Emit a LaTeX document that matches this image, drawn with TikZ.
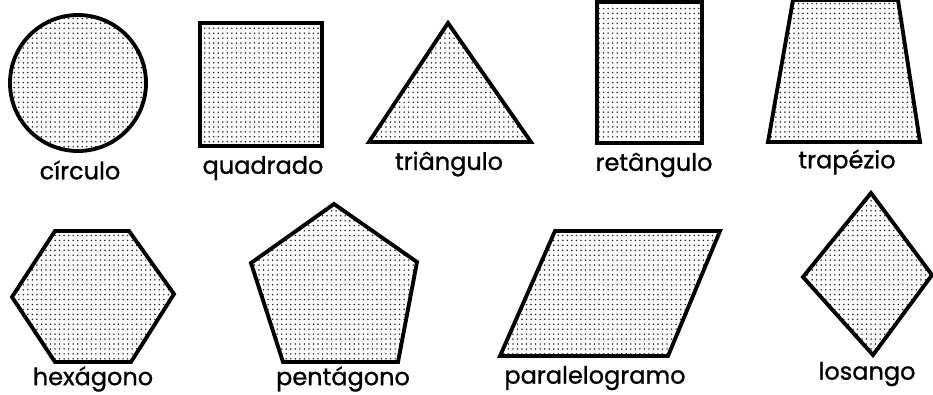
\documentclass[tikz,border=0pt]{standalone}
\usepackage{fontspec}
\setmainfont{Poppins}[FakeBold=1]
\usepackage{tikz}
\usetikzlibrary{patterns}

% pontilhado das figuras
\pgfdeclarepatternformonly{pontos}{\pgfqpoint{-1pt}{-1pt}}{\pgfqpoint{2pt}{2pt}}{\pgfqpoint{3.4pt}{3.7pt}}%
{\pgfpathcircle{\pgfqpoint{0.5pt}{0.5pt}}{0.65pt}\pgfusepath{fill}}

\begin{document}
\begin{tikzpicture}[
  x=0.75pt,y=-0.75pt,
  figura/.style={draw=black,line width=2.9pt,line join=miter,pattern=pontos,pattern color=black!85},
  rotulo/.style={font=\fontsize{18}{21}\selectfont,inner sep=0pt}
]
\useasboundingbox (0,0) rectangle (933,394);
% first row
\draw[figura] (78,83) circle[radius=51pt];
\draw[figura] (200,23) rectangle (322,146);
\draw[figura] (369,142) -- (531,142) -- (448,23) -- cycle;
\draw[figura] (597,2) rectangle (702,143);
\draw[figura] (768,142) -- (920,142) -- (898,0) -- (793,0) -- cycle;
\node[rotulo] (circulo) at (80,170) {círculo};
\node[rotulo] (quadrado) at (263,168) {quadrado};
\node[rotulo] (triangulo) at (449,164) {triângulo};
\node[rotulo] (retangulo) at (654,165) {retângulo};
\node[rotulo] (trapezio) at (847,162) {trapézio};
% second row
\draw[figura] (55,231) -- (129,231) -- (174,294) -- (131,362) -- (55,362) -- (12,297) -- cycle;
\draw[figura] (334,204) -- (417,262) -- (398,362) -- (283,362) -- (251,263) -- cycle;
\draw[figura] (555,231) -- (720,231) -- (668,356) -- (500,356) -- cycle;
\draw[figura] (871,193) -- (932,275) -- (873,355) -- (803,277) -- cycle;
\node[rotulo] (hexagono) at (93,379) {hexágono};
\node[rotulo] (pentagono) at (343,379) {pentágono};
\node[rotulo] (paralelogramo) at (595,378) {paralelogramo};
\node[rotulo] (losango) at (867,374) {losango};
\end{tikzpicture}
\end{document}
